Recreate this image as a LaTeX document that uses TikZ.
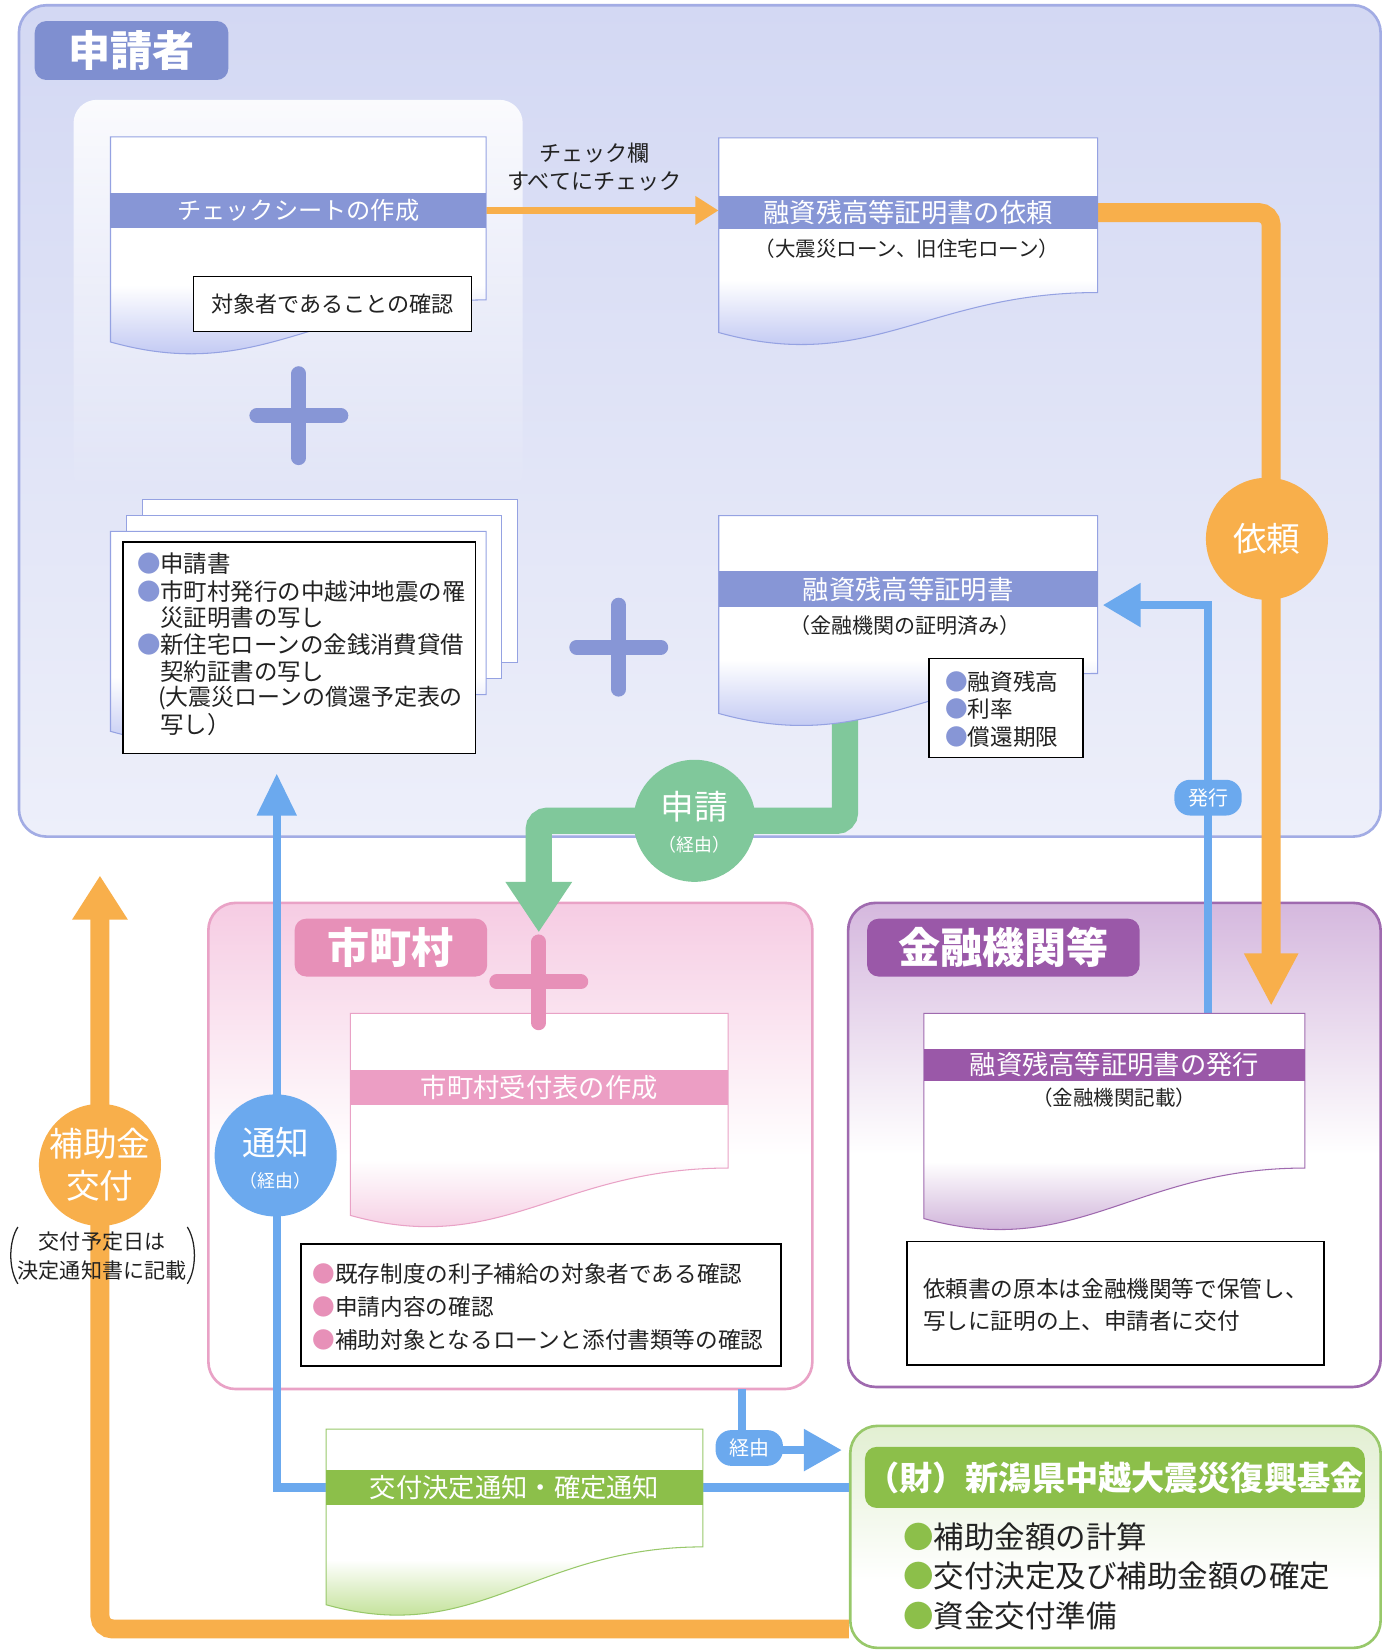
\documentclass[tikz,border=0pt]{standalone}
\usepackage{fontspec}
\setmainfont{Noto Sans CJK JP}
\usetikzlibrary{arrows.meta,fadings}
\definecolor{lavbg}{HTML}{D3D8F3}
\definecolor{lavbgb}{HTML}{EDEFFA}
\definecolor{lavline}{HTML}{A2ACE4}
\definecolor{blubar}{HTML}{8796D6}
\definecolor{blutag}{HTML}{7F8FD0}
\definecolor{docline}{HTML}{95A2E2}
\definecolor{doclav}{HTML}{A9B3EE}
\definecolor{orng}{HTML}{F8AF4B}
\definecolor{skyb}{HTML}{6BA9EE}
\definecolor{grnarrow}{HTML}{80C89B}
\definecolor{pinkline}{HTML}{E9A2C6}
\definecolor{pinkbg}{HTML}{F6CCE3}
\definecolor{pinkbar}{HTML}{EC9EC4}
\definecolor{pinktag}{HTML}{E790B8}
\definecolor{pinkdoc}{HTML}{F2BCD9}
\definecolor{purline}{HTML}{9F6AAF}
\definecolor{purbg}{HTML}{D5B8DE}
\definecolor{purtag}{HTML}{9A58A8}
\definecolor{purdoc}{HTML}{BC94CA}
\definecolor{grline}{HTML}{98C86A}
\definecolor{grbg}{HTML}{E2EFD2}
\definecolor{grtag}{HTML}{8CBF4A}
\definecolor{grdoc}{HTML}{A3D263}
\definecolor{ink}{HTML}{222222}
\pgfdeclareverticalshading{shdocB}{100bp}{color(0bp)=(doclav); color(25bp)=(doclav); color(45bp)=(white); color(100bp)=(white)}
\pgfdeclareverticalshading{shdocP}{100bp}{color(0bp)=(pinkdoc); color(25bp)=(pinkdoc); color(45bp)=(white); color(100bp)=(white)}
\pgfdeclareverticalshading{shdocU}{100bp}{color(0bp)=(purdoc); color(25bp)=(purdoc); color(45bp)=(white); color(100bp)=(white)}
\pgfdeclareverticalshading{shdocG}{100bp}{color(0bp)=(grdoc); color(25bp)=(grdoc); color(45bp)=(white); color(100bp)=(white)}
\pgfdeclareverticalshading{shboxL}{100bp}{color(0bp)=(lavbgb); color(25bp)=(lavbgb); color(75bp)=(lavbg); color(100bp)=(lavbg)}
\pgfdeclareverticalshading{shboxP}{100bp}{color(0bp)=(white); color(25bp)=(white); color(49bp)=(white); color(75bp)=(pinkbg); color(100bp)=(pinkbg)}
\pgfdeclareverticalshading{shboxU}{100bp}{color(0bp)=(white); color(25bp)=(white); color(49bp)=(white); color(75bp)=(purbg); color(100bp)=(purbg)}
\pgfdeclareverticalshading{shboxG}{100bp}{color(0bp)=(white); color(25bp)=(white); color(40bp)=(white); color(75bp)=(grbg); color(100bp)=(grbg)}
\newcommand\fz[1]{\fontsize{#1}{#1}\selectfont}
\newcommand\bul[1]{{\color{#1}●}}
\newcommand\tx[4]{\node[anchor=west, inner sep=0, text=ink, font=\fz{#2}] (#1) at #3 {#4};}
\newcommand\ctx[4]{\node[inner sep=0, text=ink, font=\fz{#2}] (#1) at #3 {#4};}
\newcommand\docshape[6]{\path[#1] (#2,#3) -- (#4,#3) -- (#4,#6) .. controls ({#2+0.55*(#4-#2)},#6) and ({#2+0.4*(#4-#2)},{#5+40}) .. (#2,#5) -- cycle;}
\tikzset{
  bigbox/.style={rounded corners=26pt, line width=2.5pt, inner sep=0, shade},
  tagbox/.style={rounded corners=11pt, inner sep=0, minimum height=56pt, text=white, font=\bfseries\fz{40}},
  barbox/.style={inner sep=0, text=white, font=\fz{25}},
  blackbox/.style={draw=black, line width=1.4pt, fill=white, inner sep=0},
  circ/.style={circle, inner sep=0, minimum size=116pt},
  ctext/.style={inner sep=0, text=white},
  pill/.style={fill=skyb, rounded corners=15pt, minimum width=64pt, minimum height=34pt, inner sep=0, text=white, font=\fz{19}},
  oline/.style={draw=orng, line width=18pt, rounded corners=12pt},
  bline/.style={draw=skyb, line width=8pt},
  docblue/.style={shade, shading=shdocB, draw=docline, line width=1pt},
  docpink/.style={shade, shading=shdocP, draw=pinkline, line width=1pt},
  docpur/.style={shade, shading=shdocU, draw=purline, line width=1pt},
  docgrn/.style={shade, shading=shdocG, draw=grline, line width=1pt},
  plusline/.style={line width=14pt, line cap=round}
}
\begin{document}
\begin{tikzpicture}[x=1pt,y=-1pt]
\useasboundingbox (0,0) rectangle (1320,1568);
\fill[white] (0,0) rectangle (1320,1568);

% ---------- big boxes ----------
\node[bigbox, shading=shboxL, draw=lavline, minimum width=1294pt, minimum height=790pt] (shinseisha) at (665,400) {};
\fill[white, fill opacity=0.9, path fading=south, rounded corners=22pt] (70,95) rectangle (497,470);
\node[bigbox, shading=shboxP, draw=pinkline, minimum width=574pt, minimum height=462pt] (shichoson) at (485,1089) {};
\node[bigbox, shading=shboxU, draw=purline, minimum width=506pt, minimum height=460pt] (kinyu) at (1059,1088) {};
\node[bigbox, shading=shboxG, draw=grline, minimum width=504pt, minimum height=211pt] (zaidan) at (1060,1460.5) {};

% ---------- tags ----------
\node[tagbox, fill=blutag, minimum width=184pt] (tagS) at (125,48) {申請者};
\node[tagbox, fill=pinktag, minimum width=183pt, minimum height=55pt] (tagM) at (371.5,900.5) {市町村};
\node[tagbox, fill=purtag, minimum width=259pt, minimum height=55pt] (tagK) at (953.5,900.5) {金融機関等};
\node[tagbox, fill=grtag, minimum width=475pt, minimum height=58pt, font=\bfseries\fz{31.5}] (tagZ) at (1059.5,1404) {（財）新潟県中越大震災復興基金};

% ---------- bar nodes (needed for connectors) ----------
\path (283.5,200) node[minimum width=357pt, minimum height=34pt, inner sep=0] (barA) {};
\path (863,202) node[minimum width=360pt, minimum height=32pt, inner sep=0] (barB) {};
\path (863,560) node[minimum width=360pt, minimum height=34pt, inner sep=0] (barC) {};
\path (489,1413.5) node[minimum width=358pt, minimum height=33pt, inner sep=0] (barF) {};

% ---------- connectors ----------
\draw[draw=orng, line width=7pt, -{Triangle[length=22pt,width=26pt]}] (barA.east) -- (barA.east -| barB.west);
\coordinate (oTip) at (1208,956);
\draw[oline, -{Triangle[length=50pt,width=48pt]}] (barB.east) -| (oTip);
\coordinate (hTip) at (95,832);
\draw[oline, -{Triangle[length=42pt,width=50pt]}] (zaidan.west |- 0,1548) -| (hTip);
\coordinate (tTip) at (263,735);
\draw[bline, -{Triangle[length=40pt,width=36pt]}] (barF.west) -| (tTip);
\draw[bline] (barF.east) -- (barF.east -| zaidan.west);
\coordinate (kS) at (705,1320);
\coordinate (kTip) at (800,1378);
\draw[bline, -{Triangle[length=36pt,width=38pt]}] (kS) |- (kTip);
\coordinate (hkS) at (1148,963);
\coordinate (hkTip) at (1048,575);
\draw[bline, -{Triangle[length=36pt,width=40pt]}] (hkS) |- (hkTip);
\coordinate (gS) at (803,682);
\coordinate (gC1) at (803,780);
\coordinate (gC2) at (512,780);
\coordinate (gTip) at (512,886);
\draw[draw=grnarrow, line width=25pt, rounded corners=8pt, -{Triangle[length=48pt,width=60pt]}] (gS) -- (gC1) -- (gC2) -- (gTip);

% ---------- documents ----------
\docshape{docblue}{105}{130}{462}{325}{285}
\docshape{docblue}{683}{131}{1043}{316}{278}
\docshape{docblue}{683}{490}{1043}{678}{640}
\docshape{docpink}{333}{963}{692}{1155}{1110}
\docshape{docpur}{878}{963}{1240}{1158}{1110}
\docshape{docgrn}{310}{1358}{668}{1525}{1470}
% stacked sheets
\draw[docline, fill=white, line width=1pt] (135,475) rectangle (492,630);
\draw[docline, fill=white, line width=1pt] (120,490) rectangle (477,645);
\docshape{docblue}{105}{505}{462}{695}{660}

% bars with text
\node[barbox, fill=blubar, minimum width=357pt, minimum height=34pt, font=\fz{23}] (tA) at (barA) {チェックシートの作成};
\node[barbox, fill=blubar, minimum width=360pt, minimum height=32pt] (tB) at (barB) {融資残高等証明書の依頼};
\node[barbox, fill=blubar, minimum width=360pt, minimum height=34pt] (tC) at (barC) {融資残高等証明書};
\node[barbox, fill=pinkbar, minimum width=359pt, minimum height=33pt] (barD) at (512.5,1033.5) {市町村受付表の作成};
\node[barbox, fill=purtag, minimum width=362pt, minimum height=30pt] (barE) at (1059,1012) {融資残高等証明書の発行};
\node[barbox, fill=grtag, minimum width=358pt, minimum height=33pt] (tF) at (barF) {交付決定通知・確定通知};

\ctx{subB}{19.5}{(862,236)}{（大震災ローン、旧住宅ローン）}
\ctx{subC}{20}{(860,594)}{（金融機関の証明済み）}
\ctx{subE}{19.5}{(1059,1043)}{（金融機関記載）}

% ---------- black boxes ----------
\node[blackbox, minimum width=264pt, minimum height=52pt, text=ink, font=\fz{21}] (chkbox) at (316,289) {対象者であることの確認};
\node[blackbox, minimum width=335pt, minimum height=201pt] (stackbox) at (284.5,615.5) {};
\tx{s1}{22.3}{(130,536)}{\bul{blubar}申請書}
\tx{s2}{22.3}{(130,562)}{\bul{blubar}市町村発行の中越沖地震の罹}
\tx{s3}{22.3}{(152,587)}{災証明書の写し}
\tx{s4}{22.3}{(130,613)}{\bul{blubar}新住宅ローンの金銭消費貸借}
\tx{s5}{22.3}{(152,638)}{契約証書の写し}
\tx{s6}{21.8}{(150,663)}{(大震災ローンの償還予定表の}
\tx{s7}{22.3}{(152,689)}{写し）}

\node[blackbox, minimum width=146pt, minimum height=94pt] (listC) at (956,673) {};
\tx{c1}{21.5}{(898,648)}{\bul{blubar}融資残高}
\tx{c2}{21.5}{(898,674)}{\bul{blubar}利率}
\tx{c3}{21.5}{(898,700)}{\bul{blubar}償還期限}

\node[blackbox, minimum width=456pt, minimum height=116pt] (listM) at (514,1240) {};
\tx{m1}{21.5}{(297,1211)}{\bul{pinktag}既存制度の利子補給の対象者である確認}
\tx{m2}{21.5}{(297,1242)}{\bul{pinktag}申請内容の確認}
\tx{m3}{21.5}{(297,1273)}{\bul{pinktag}補助対象となるローンと添付書類等の確認}

\node[blackbox, minimum width=396pt, minimum height=117pt] (listK) at (1060,1238.5) {};
\tx{k1}{21.5}{(877,1225)}{依頼書の原本は金融機関等で保管し、}
\tx{k2}{21.5}{(877,1255)}{写しに証明の上、申請者に交付}

\tx{z1}{29}{(858,1460)}{\bul{grtag}補助金額の計算}
\tx{z2}{29}{(858,1498)}{\bul{grtag}交付決定及び補助金額の確定}
\tx{z3}{29}{(858,1536)}{\bul{grtag}資金交付準備}

% ---------- plus signs ----------
\draw[plusline, blubar] (244,395) -- (324,395) (284,355) -- (284,435);
\draw[plusline, blubar] (548,615) -- (628,615) (588,575) -- (588,655);
\draw[plusline, pinktag] (472,933) -- (552,933) (512,895) -- (512,972);

% ---------- labels ----------
\node[inner sep=0, align=center, text=ink, font=\fontsize{21}{27}\selectfont] (chklbl) at (565,159) {チェック欄\\すべてにチェック};

\node[circ, fill=orng] (irai) at (1204,512) {};
\node[ctext, font=\fz{32}] (iraiT) at (irai) {依頼};
\node[circ, fill=grnarrow] (shinsei) at (660,780) {};
\node[ctext, font=\fz{32}] (shinseiT) at (660,767) {申請};
\node[ctext, font=\fz{17}] (shinseiK) at (660,803) {（経由）};
\node[circ, fill=skyb] (tsuchi) at (262,1098) {};
\node[ctext, font=\fz{32}] (tsuchiT) at (262,1086) {通知};
\node[ctext, font=\fz{17}] (tsuchiK) at (262,1122) {（経由）};
\node[circ, fill=orng] (hojo) at (95,1107) {};
\node[ctext, font=\fz{32}] (hojoT1) at (95,1087) {補助金};
\node[ctext, font=\fz{32}] (hojoT2) at (95,1127) {交付};

\node[pill] (hakko) at (1148,758) {発行};
\node[pill] (keiyu) at (712,1376) {経由};

\ctx{kofu1}{20}{(97,1180)}{交付予定日は}
\ctx{kofu2}{20}{(97,1207)}{決定通知書に記載}
\draw[ink, line width=1.2pt] (17,1166) .. controls (8,1180) and (8,1206) .. (17,1220);
\draw[ink, line width=1.2pt] (178,1166) .. controls (187,1180) and (187,1206) .. (178,1220);
\end{tikzpicture}
\end{document}
